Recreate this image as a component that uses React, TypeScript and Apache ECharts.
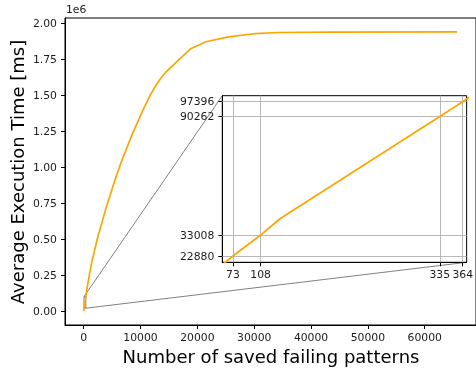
import React, { useEffect, useRef } from "react";
import * as echarts from "echarts";

// Number of saved failing patterns vs average execution time [ms]
const patterns = [0, 73, 108, 133, 335, 364, 700, 1350, 2500, 4000, 5400, 6600, 8600, 10400, 11400, 12400, 13400, 14500, 16800, 18900, 19300, 21500, 25500, 30200, 34300, 43000, 65700];
const timesMs = [0, 22880, 33008, 41000, 90262, 97396, 185000, 328000, 518000, 726000, 900000, 1036000, 1236000, 1396000, 1478000, 1550000, 1610000, 1664000, 1750000, 1826000, 1833000, 1873000, 1907000, 1930000, 1937000, 1940000, 1941000];

const mainXTicks = [0, 10000, 20000, 30000, 40000, 50000, 60000];
const mainYTicks = [0, 250000, 500000, 750000, 1000000, 1250000, 1500000, 1750000, 2000000];
const insetXTicks = [73, 108, 335, 364];
const insetYTicks = [22880, 33008, 90262, 97396];

const mainXRange = [-3290, 69020];
const mainYRange = [-97000, 2038000];
const insetXRange = [59.5, 369];
const insetYRange = [19840, 100290];

const FONT = "DejaVu Sans";
const TXT = "#1a1a1a";
const ORANGE = "#FFA500";
const GRAY = "#808080";

export default function App() {
  const ref = useRef<HTMLDivElement>(null);
  useEffect(() => {
    if (!ref.current) return;
    const chart = echarts.init(ref.current, null, { renderer: "svg" });
    const data = patterns.map((p, i) => [p, timesMs[i]]);
    const tickLabel = { fontFamily: FONT, fontSize: 10.8, color: TXT };
    const axisCommon = (gridIndex: number) => ({
      type: "value" as const,
      gridIndex,
      axisLine: { show: true, onZero: false, lineStyle: { color: "#000", width: 1 } },
      splitLine: { show: false },
    });
    const option: any = {
      animation: false,
      grid: [
        { left: 65, top: 18, width: 413, height: 307, show: true, borderColor: "#000", borderWidth: 1, backgroundColor: "transparent" },
        { left: 222.3, top: 95.7, width: 249.4, height: 166.6, show: true, borderColor: "#000", borderWidth: 1, backgroundColor: "#fff", z: 3 },
      ],
      xAxis: [
        {
          ...axisCommon(0),
          min: mainXRange[0],
          max: mainXRange[1],
          axisTick: { show: true, length: 4, customValues: mainXTicks, lineStyle: { color: "#000" } },
          axisLabel: { ...tickLabel, margin: 7, customValues: mainXTicks, formatter: (v: number) => String(v) },
        },
        {
          ...axisCommon(1),
          min: insetXRange[0],
          max: insetXRange[1],
          z: 4,
          axisTick: { show: true, length: 4, customValues: insetXTicks, lineStyle: { color: "#000" } },
          axisLabel: { ...tickLabel, margin: 7, customValues: insetXTicks, formatter: (v: number) => String(v) },
        },
      ],
      yAxis: [
        {
          ...axisCommon(0),
          min: mainYRange[0],
          max: mainYRange[1],
          axisTick: { show: true, length: 4, customValues: mainYTicks, lineStyle: { color: "#000" } },
          axisLabel: { ...tickLabel, margin: 8, customValues: mainYTicks, formatter: (v: number) => (v / 1e6).toFixed(2) },
        },
        {
          ...axisCommon(1),
          min: insetYRange[0],
          max: insetYRange[1],
          z: 4,
          axisTick: { show: true, length: 4, customValues: insetYTicks, lineStyle: { color: "#000" } },
          axisLabel: { ...tickLabel, margin: 8, customValues: insetYTicks, formatter: (v: number) => String(v) },
        },
      ],
      series: [
        {
          type: "line",
          xAxisIndex: 0,
          yAxisIndex: 0,
          data,
          showSymbol: false,
          lineStyle: { color: ORANGE, width: 1.7, join: "round" },
          z: 2,
        },
        {
          type: "line",
          xAxisIndex: 1,
          yAxisIndex: 1,
          data: [],
          silent: true,
          z: 4,
          markLine: {
            silent: true,
            symbol: ["none", "none"],
            label: { show: false },
            lineStyle: { color: "#b0b0b0", width: 0.9, type: "solid" },
            data: [...insetXTicks.map((v) => ({ xAxis: v })), ...insetYTicks.map((v) => ({ yAxis: v }))],
          },
        },
        {
          type: "line",
          xAxisIndex: 1,
          yAxisIndex: 1,
          data,
          showSymbol: false,
          lineStyle: { color: ORANGE, width: 1.7 },
          z: 6,
        },
      ],
      graphic: [
        { id: "offset", type: "text", left: 66, top: 4, style: { text: "1e6", font: `10.8px ${FONT}`, fill: TXT } },
        {
          id: "xname",
          type: "text",
          x: 271,
          y: 356.5,
          style: { text: "Number of saved failing patterns", font: `18px ${FONT}`, fill: "#000", textAlign: "center", textVerticalAlign: "middle" },
        },
        {
          id: "yname",
          type: "text",
          x: 17,
          y: 172,
          rotation: Math.PI / 2,
          style: { text: "Average Execution Time [ms]", font: `18px ${FONT}`, fill: "#000", textAlign: "center", textVerticalAlign: "middle" },
        },
      ],
    };
    chart.setOption(option);

    const toMain = (x: number, y: number) => chart.convertToPixel({ gridIndex: 0 } as any, [x, y]) as number[];
    const toInset = (x: number, y: number) => chart.convertToPixel({ gridIndex: 1 } as any, [x, y]) as number[];
    const r1 = toMain(insetXRange[0], insetYRange[1]);
    const r2 = toMain(insetXRange[1], insetYRange[0]);
    const i1 = toInset(insetXRange[0], insetYRange[1]);
    const i2 = toInset(insetXRange[1], insetYRange[0]);
    chart.setOption({
      graphic: [
        {
          id: "zoomRect",
          type: "rect",
          z: 1,
          shape: { x: r1[0], y: r1[1], width: r2[0] - r1[0], height: r2[1] - r1[1] },
          style: { fill: "none", stroke: GRAY, lineWidth: 1 },
        },
        {
          id: "conn1",
          type: "line",
          z: 1,
          shape: { x1: r1[0], y1: r1[1], x2: i1[0], y2: i1[1] },
          style: { stroke: GRAY, lineWidth: 1 },
        },
        {
          id: "conn2",
          type: "line",
          z: 1,
          shape: { x1: r2[0], y1: r2[1], x2: i2[0], y2: i2[1] },
          style: { stroke: GRAY, lineWidth: 1 },
        },
      ],
    });
    return () => chart.dispose();
  }, []);
  return <div ref={ref} style={{ position: "fixed", left: 0, top: 0, width: 476, height: 368 }} />;
}
